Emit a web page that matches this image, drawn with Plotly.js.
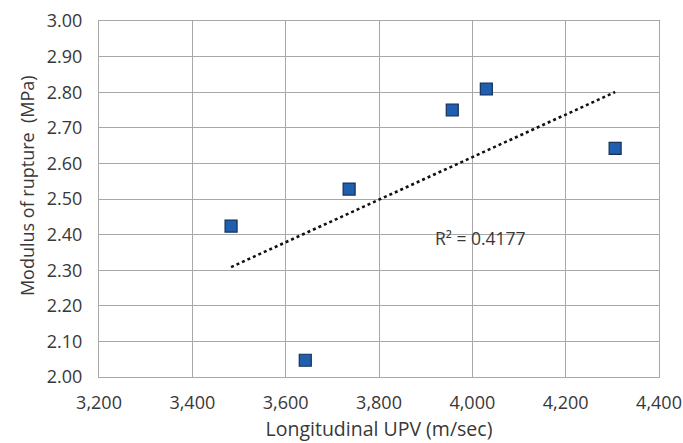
<!DOCTYPE html>
<html>
<head>
<meta charset="utf-8">
<script src="https://cdn.plot.ly/plotly-3.0.1.min.js"></script>
<style>
  html, body { margin: 0; padding: 0; background: #ffffff; }
  #chart { width: 683px; height: 443px; }
</style>
</head>
<body>
<div id="chart"></div>
<script>
// Longitudinal UPV (m/sec) vs modulus of rupture (MPa)
const upv = [3483, 3642, 3736, 3957, 4030, 4306];
const mor = [2.424, 2.047, 2.528, 2.750, 2.809, 2.642];
const xTickVals = [3200, 3400, 3600, 3800, 4000, 4200, 4400];
const xTickText = ['3,200', '3,400', '3,600', '3,800', '4,000', '4,200', '4,400'];
const yTickVals = [2.0, 2.1, 2.2, 2.3, 2.4, 2.5, 2.6, 2.7, 2.8, 2.9, 3.0];
const yTickText = ['2.00', '2.10', '2.20', '2.30', '2.40', '2.50', '2.60', '2.70', '2.80', '2.90', '3.00'];
const xTitle = 'Longitudinal UPV (m/sec)';
const yTitle = 'Modulus of rupture  (MPa)';
const r2Label = 'R² = 0.4177';

// Least-squares linear trendline spanning the data range
const n = upv.length;
const mx = upv.reduce((a, b) => a + b, 0) / n;
const my = mor.reduce((a, b) => a + b, 0) / n;
let sxy = 0, sxx = 0;
for (let i = 0; i < n; i++) {
  sxy += (upv[i] - mx) * (mor[i] - my);
  sxx += (upv[i] - mx) * (upv[i] - mx);
}
const slope = sxy / sxx;
const intercept = my - slope * mx;
const xMin = Math.min(...upv), xMax = Math.max(...upv);
const trendX = [xMin, xMax];
const trendY = trendX.map(x => intercept + slope * x);

const fontFam = '"Open Sans", "Noto Sans", sans-serif';
const textColor = '#383838';
const gridColor = '#a8a8a8';

const data = [
  {
    x: trendX, y: trendY, type: 'scatter', mode: 'lines',
    line: { color: '#111111', width: 2.6, dash: 'dot' },
    hoverinfo: 'skip', showlegend: false
  },
  {
    x: upv, y: mor, type: 'scatter', mode: 'markers',
    marker: { symbol: 'square', size: 12, color: '#1f5fae',
              line: { color: '#14305a', width: 1.2 } },
    showlegend: false
  }
];

const layout = {
  width: 683, height: 443,
  margin: { l: 99, r: 24, t: 21, b: 66 },
  paper_bgcolor: '#ffffff', plot_bgcolor: '#ffffff',
  font: { family: fontFam, color: textColor, size: 18 },
  xaxis: {
    range: [3200, 4400], tickvals: xTickVals, ticktext: xTickText,
    showgrid: true, gridcolor: gridColor, gridwidth: 1,
    showline: true, linecolor: gridColor, linewidth: 1, mirror: true,
    zeroline: false, ticks: '', ticklabelstandoff: 9,
    tickfont: { family: fontFam, size: 18, color: textColor },
    title: { text: xTitle, standoff: 9,
             font: { family: fontFam, size: 19.5, color: textColor } }
  },
  yaxis: {
    range: [2.0, 3.0], tickvals: yTickVals, ticktext: yTickText,
    showgrid: true, gridcolor: gridColor, gridwidth: 1,
    showline: true, linecolor: gridColor, linewidth: 1, mirror: true,
    zeroline: false, ticks: '', ticklabelstandoff: 12,
    tickfont: { family: fontFam, size: 18, color: textColor }
  },
  annotations: [
    {
      // vertical axis title, sitting slightly above the plot's mid-height
      x: -0.1286, y: 0.539, xref: 'paper', yref: 'paper', text: yTitle,
      textangle: -90, showarrow: false,
      font: { family: fontFam, size: 18, color: textColor },
      xanchor: 'center', yanchor: 'middle'
    },
    {
      x: 4018, y: 2.39, xref: 'x', yref: 'y', text: r2Label,
      showarrow: false, font: { family: fontFam, size: 17.5, color: textColor },
      xanchor: 'center', yanchor: 'middle'
    }
  ]
};

Plotly.newPlot('chart', data, layout, { displayModeBar: false, staticPlot: true });
</script>
</body>
</html>
